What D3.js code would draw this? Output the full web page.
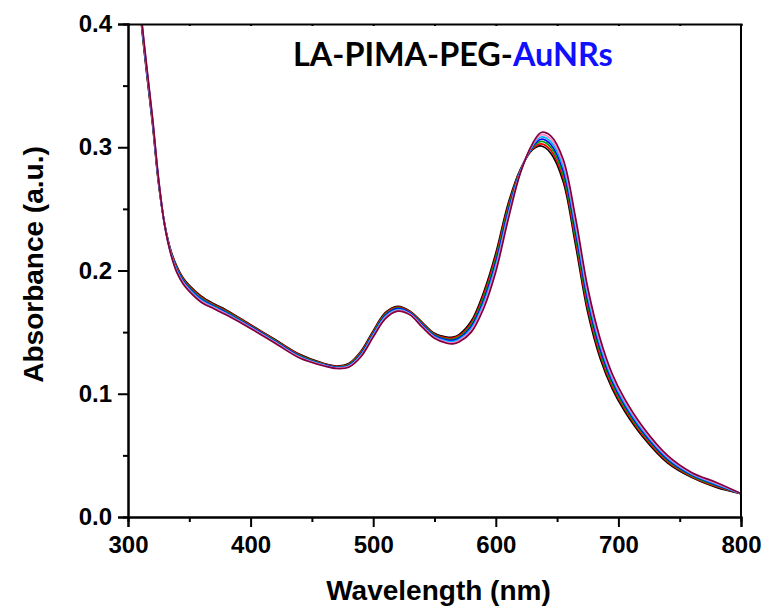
<!DOCTYPE html>
<html>
<head>
<meta charset="utf-8">
<script src="https://cdn.jsdelivr.net/npm/d3@7"></script>
<style>
  body { margin: 0; background: #fff; }
  text { font-family: "Liberation Sans", Arial, sans-serif; font-weight: bold; }
</style>
</head>
<body>
<div id="chartContainer"></div>
<script>
const wavelengths = [300, 305, 310, 315, 320, 325, 330, 335, 340, 345, 350, 360, 370, 380, 400, 420, 440, 460, 470, 480, 490, 500, 510, 520, 530, 540, 550, 560, 565, 570, 580, 590, 600, 610, 620, 630, 637, 645, 655, 665, 675, 685, 695, 705, 720, 740, 760, 780, 800];

const seriesBlack = [0.560, 0.480, 0.410, 0.362, 0.319, 0.270, 0.237, 0.216, 0.203, 0.194, 0.188, 0.179, 0.173, 0.168, 0.156, 0.144, 0.132, 0.1245, 0.1225, 0.1245, 0.1345, 0.151, 0.166, 0.171, 0.167, 0.158, 0.149, 0.146, 0.146, 0.148, 0.159, 0.182, 0.214, 0.254, 0.282, 0.298, 0.301, 0.295, 0.272, 0.221, 0.166, 0.129, 0.104, 0.086, 0.065, 0.044, 0.032, 0.024, 0.019];
const seriesRed = [0.561, 0.481, 0.411, 0.363, 0.3198, 0.2707, 0.2368, 0.2155, 0.2022, 0.1932, 0.1872, 0.1782, 0.1723, 0.1673, 0.1555, 0.1435, 0.1315, 0.1242, 0.1222, 0.124, 0.1338, 0.1502, 0.1652, 0.1703, 0.1665, 0.1573, 0.1483, 0.1452, 0.1451, 0.147, 0.1575, 0.1798, 0.2115, 0.2518, 0.2815, 0.2988, 0.3028, 0.2973, 0.275, 0.2247, 0.1693, 0.1317, 0.106, 0.0877, 0.0663, 0.045, 0.0327, 0.0247, 0.019];
const seriesGreen = [0.562, 0.482, 0.412, 0.364, 0.3207, 0.2713, 0.2367, 0.215, 0.2013, 0.1923, 0.1863, 0.1773, 0.1717, 0.1667, 0.155, 0.143, 0.131, 0.1238, 0.1218, 0.1235, 0.133, 0.1493, 0.1643, 0.1697, 0.166, 0.1567, 0.1477, 0.1443, 0.1442, 0.146, 0.156, 0.1777, 0.209, 0.2497, 0.281, 0.2997, 0.3047, 0.2997, 0.278, 0.2283, 0.1727, 0.1343, 0.108, 0.0893, 0.0677, 0.046, 0.0333, 0.0253, 0.019];
const seriesBlue = [0.563, 0.483, 0.413, 0.365, 0.3215, 0.272, 0.2365, 0.2145, 0.2005, 0.1915, 0.1855, 0.1765, 0.171, 0.166, 0.1545, 0.1425, 0.1305, 0.1235, 0.1215, 0.123, 0.1323, 0.1485, 0.1635, 0.169, 0.1655, 0.156, 0.147, 0.1435, 0.1433, 0.145, 0.1545, 0.1755, 0.2065, 0.2475, 0.2805, 0.3005, 0.3065, 0.302, 0.281, 0.232, 0.176, 0.137, 0.110, 0.091, 0.069, 0.047, 0.034, 0.026, 0.019];
const seriesCyan = [0.564, 0.484, 0.414, 0.366, 0.3223, 0.2727, 0.2363, 0.214, 0.1997, 0.1907, 0.1847, 0.1757, 0.1703, 0.1653, 0.154, 0.142, 0.130, 0.1232, 0.1212, 0.1225, 0.1315, 0.1477, 0.1627, 0.1683, 0.165, 0.1553, 0.1463, 0.1427, 0.1423, 0.144, 0.153, 0.1733, 0.204, 0.2453, 0.280, 0.3013, 0.3083, 0.3043, 0.284, 0.2357, 0.1793, 0.1397, 0.112, 0.0927, 0.0703, 0.048, 0.0347, 0.0267, 0.019];
const seriesPink = [0.565, 0.485, 0.415, 0.367, 0.3232, 0.2733, 0.2362, 0.2135, 0.1988, 0.1898, 0.1838, 0.1748, 0.1697, 0.1647, 0.1535, 0.1415, 0.1295, 0.1228, 0.1208, 0.122, 0.1308, 0.1468, 0.1618, 0.1677, 0.1645, 0.1547, 0.1457, 0.1418, 0.1414, 0.143, 0.1515, 0.1712, 0.2015, 0.2432, 0.2795, 0.3022, 0.3102, 0.3067, 0.287, 0.2393, 0.1827, 0.1423, 0.114, 0.0943, 0.0717, 0.049, 0.0353, 0.0273, 0.019];
const seriesWine = [0.566, 0.486, 0.416, 0.368, 0.324, 0.274, 0.236, 0.213, 0.198, 0.189, 0.183, 0.174, 0.169, 0.164, 0.153, 0.141, 0.129, 0.1225, 0.1205, 0.1215, 0.130, 0.146, 0.161, 0.167, 0.164, 0.154, 0.145, 0.141, 0.1405, 0.142, 0.150, 0.169, 0.199, 0.241, 0.279, 0.303, 0.312, 0.309, 0.290, 0.243, 0.186, 0.145, 0.116, 0.096, 0.073, 0.050, 0.036, 0.028, 0.019];

const seriesList = [seriesBlack, seriesRed, seriesGreen, seriesBlue, seriesCyan, seriesPink, seriesWine];
const seriesColors = ["#000000", "#ff0000", "#00a000", "#0000ff", "#00b0ff", "#ff80c0", "#800040"];

const xTicks = [300, 400, 500, 600, 700, 800];
const yTicks = [0.0, 0.1, 0.2, 0.3, 0.4];

const width = 767;
const height = 609;
const margin = { top: 24, right: 26, bottom: 92, left: 128 };

const svg = d3.select("#chartContainer").append("svg");
svg.attr("width", width).attr("height", height);

const x = d3.scaleLinear().domain([300, 800]).range([margin.left, width - margin.right]);
const y = d3.scaleLinear().domain([0, 0.4]).range([height - margin.bottom, margin.top]);

svg.append("clipPath")
  .attr("id", "plotClip")
  .append("rect")
  .attr("x", margin.left)
  .attr("y", margin.top)
  .attr("width", width - margin.left - margin.right)
  .attr("height", height - margin.top - margin.bottom);

const line = d3.line()
  .x((d, i) => x(wavelengths[i]))
  .y((d) => y(d))
  .curve(d3.curveCatmullRom.alpha(0.5));

const curves = svg.append("g").attr("clip-path", "url(#plotClip)");
seriesList.forEach((series, i) => {
  curves.append("path")
    .attr("d", line(series))
    .attr("fill", "none")
    .attr("stroke", seriesColors[i])
    .attr("stroke-width", 1.7);
});

// minor ticks first, then major ticks with labels
const xMinor = d3.axisBottom(x).tickValues([350, 450, 550, 650, 750]).tickSize(5).tickFormat("");
const yMinor = d3.axisLeft(y).tickValues([0.05, 0.15, 0.25, 0.35]).tickSize(5).tickFormat("");

const xAxis = d3.axisBottom(x).tickValues(xTicks).tickSize(10).tickPadding(9).tickFormat(d3.format("d"));
const yAxis = d3.axisLeft(y).tickValues(yTicks).tickSize(10).tickPadding(6).tickFormat(d3.format(".1f"));

const bottomY = height - margin.bottom;

svg.append("g").attr("transform", `translate(0,${bottomY})`).call(xMinor);
svg.append("g").attr("transform", `translate(${margin.left},0)`).call(yMinor);
svg.append("g").attr("class", "axisMain").attr("transform", `translate(0,${bottomY})`).call(xAxis);
svg.append("g").attr("class", "axisMain").attr("transform", `translate(${margin.left},0)`).call(yAxis);

// top and right frame with tiny inward ticks
const topTicks = d3.axisTop(x).tickValues(d3.range(300, 801, 50)).tickSize(-2).tickFormat("");
svg.append("g").attr("transform", `translate(0,${margin.top})`).call(topTicks);
svg.append("line")
  .attr("x1", width - margin.right).attr("x2", width - margin.right)
  .attr("y1", margin.top).attr("y2", bottomY)
  .attr("stroke", "#000").attr("stroke-width", 2);

svg.selectAll(".domain").attr("stroke", "#000").attr("stroke-width", 2);
svg.selectAll(".tick line").attr("stroke", "#000").attr("stroke-width", 2);
svg.selectAll(".axisMain text")
  .attr("fill", "#000")
  .style("font-size", "24px")
  .style("font-family", "'Liberation Sans', Arial, sans-serif")
  .style("font-weight", "bold");

svg.append("text")
  .attr("x", (margin.left + width - margin.right) / 2 + 4)
  .attr("y", 600)
  .attr("text-anchor", "middle")
  .style("font-size", "28px")
  .text("Wavelength (nm)");

svg.append("text")
  .attr("transform", `translate(43,${(margin.top + bottomY) / 2 - 6}) rotate(-90)`)
  .attr("text-anchor", "middle")
  .style("font-size", "28px")
  .text("Absorbance (a.u.)");

const title = svg.append("text")
  .attr("x", 293)
  .attr("y", 66)
  .style("font-family", "Lato, 'Open Sans', sans-serif")
  .style("font-size", "30px")
  .style("font-weight", "bold");
title.append("tspan").attr("fill", "#000").text("LA-PIMA-PEG-");
title.append("tspan").attr("fill", "#1010ff").text("AuNRs");

// fit the title to the width it has in the picture
const titleWidth = title.node().getComputedTextLength();
title.style("font-size", `${(30 * 320) / titleWidth}px`);
</script>
</body>
</html>
